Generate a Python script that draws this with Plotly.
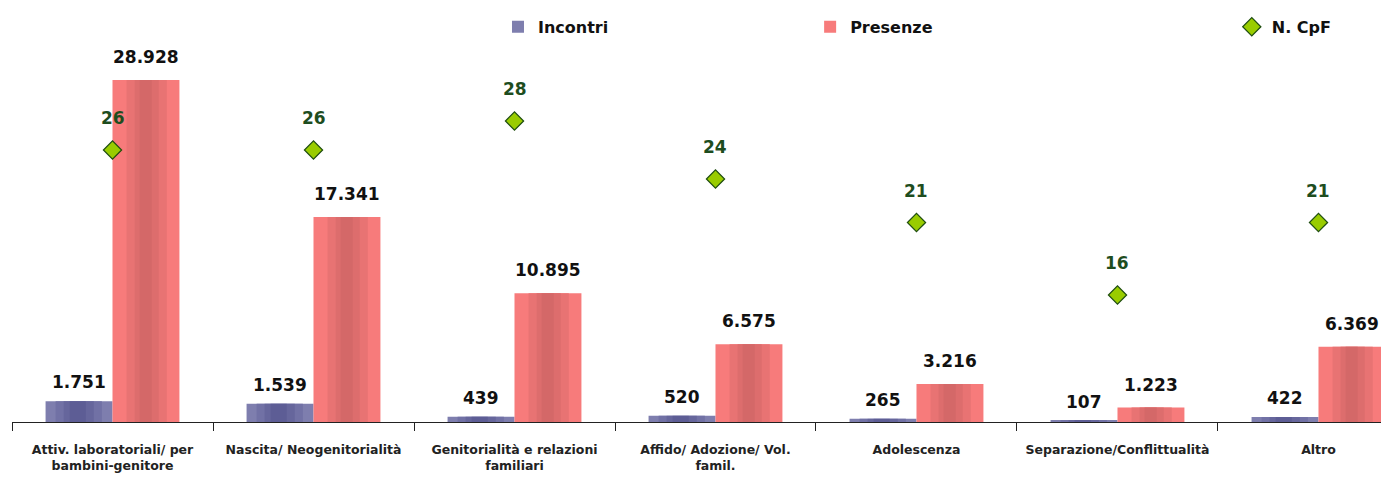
import plotly.graph_objects as go

categories = ["Attiv. laboratoriali/ per<br>bambini-genitore", "Nascita/ Neogenitorialità",
              "Genitorialità e relazioni<br>familiari", "Affido/ Adozione/ Vol.<br>famil.",
              "Adolescenza", "Separazione/Conflittualità", "Altro"]
incontri = [1751, 1539, 439, 520, 265, 107, 422]
presenze = [28928, 17341, 10895, 6575, 3216, 1223, 6369]
cpf = [26, 26, 28, 24, 21, 16, 21]


def fmt(v):
    return f"{v:,}".replace(",", ".")


BW = 0.333
FONT = "DejaVu Sans"
fig = go.Figure()

# Incontri bar with stripe shading (layers)
inc_layers = [(0.0, BW, "#7E7EAE"), (0.05, 0.23, "#7171A5"), (0.09, 0.15, "#66669C"), (0.12, 0.08, "#5D5D95")]
for k, (off, w, col) in enumerate(inc_layers):
    fig.add_trace(go.Bar(x=categories, y=incontri, offset=-BW + off, width=w, marker=dict(color=col, line=dict(width=0)),
                         name="Incontri", showlegend=(k == 0), legend="legend", hoverinfo="skip"))

pre_layers = [(0.0, BW, "#F77B7B"), (0.07, 0.2, "#E87373"), (0.11, 0.12, "#DD6D6D"), (0.135, 0.06, "#D46868")]
for k, (off, w, col) in enumerate(pre_layers):
    fig.add_trace(go.Bar(x=categories, y=presenze, offset=off, width=w, marker=dict(color=col, line=dict(width=0)),
                         name="Presenze", showlegend=(k == 0), legend="legend2", hoverinfo="skip"))

fig.add_trace(go.Scatter(x=categories, y=cpf, yaxis="y2", mode="markers", name="N. CpF", legend="legend3",
                         marker=dict(symbol="diamond", size=14, color="#99CC00", line=dict(color="#1E4D0F", width=1.2))))

ann = []
for i in range(len(categories)):
    ann.append(dict(x=i - BW / 2, y=incontri[i], text=fmt(incontri[i]), showarrow=False, yanchor="bottom", yshift=7,
                    font=dict(family=FONT, size=17, color="#111111")))
    ann.append(dict(x=i + BW / 2, y=presenze[i], text=fmt(presenze[i]), showarrow=False, yanchor="bottom", yshift=11,
                    font=dict(family=FONT, size=17, color="#111111")))
    ann.append(dict(x=i, y=cpf[i], yref="y2", text=str(cpf[i]), showarrow=False, yanchor="bottom", yshift=20,
                    font=dict(family=FONT, size=17, color="#1E4D1E")))
for a in ann:
    a["font"]["weight"] = "bold"

legfont = dict(family=FONT, size=16, color="#111111", weight="bold")
fig.update_layout(
    width=1381, height=477,
    margin=dict(l=12, r=0, t=20, b=55),
    paper_bgcolor="white", plot_bgcolor="white",
    barmode="overlay",
    showlegend=True,
    annotations=ann,
    xaxis=dict(type="category", range=[-0.5, 6.311], tickson="boundaries", ticks="outside", ticklen=8,
               tickcolor="#222", showline=True, linecolor="#222", linewidth=1, showgrid=False,
               ticklabelstandoff=16,
               tickfont=dict(family=FONT, size=12.5, color="#222", weight="bold")),
    yaxis=dict(range=[0, 34009], visible=False, showgrid=False),
    yaxis2=dict(range=[7.24, 34.97], overlaying="y", visible=False, showgrid=False),
    legend=dict(x=0.355, y=0.983, xanchor="left", yanchor="middle", font=legfont, bgcolor="rgba(0,0,0,0)"),
    legend2=dict(x=0.583, y=0.983, xanchor="left", yanchor="middle", font=legfont, bgcolor="rgba(0,0,0,0)"),
    legend3=dict(x=0.891, y=0.983, xanchor="left", yanchor="middle", font=legfont, bgcolor="rgba(0,0,0,0)"),
)
fig.write_html("out.html")
